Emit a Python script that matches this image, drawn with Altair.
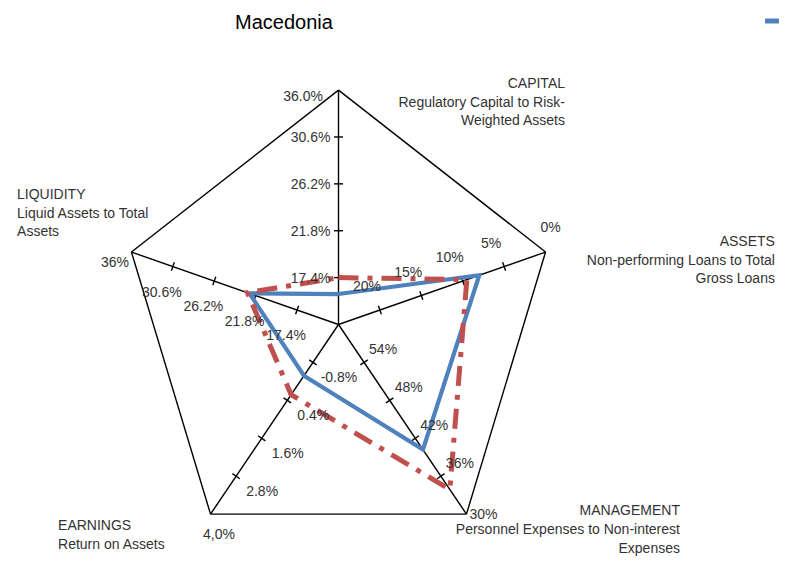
import math
import altair as alt
import pandas as pd

# ---------------- data ----------------
TITLE = "Macedonia"
axis_names = ["CAPITAL", "ASSETS", "MANAGEMENT", "EARNINGS", "LIQUIDITY"]
axis_subtitles = [
    "Regulatory Capital to Risk-\nWeighted Assets",
    "Non-performing Loans to Total\nGross Loans",
    "Personnel Expenses to Non-interest\nExpenses",
    "Return on Assets",
    "Liquid Assets to Total\nAssets",
]
tick_fractions = [0.2, 0.4, 0.6, 0.8, 1.0]
capital_ticks = ["17.4%", "21.8%", "26.2%", "30.6%", "36.0%"]
assets_ticks = ["20%", "15%", "10%", "5%", "0%"]
management_ticks = ["54%", "48%", "42%", "36%", "30%"]
earnings_ticks = ["-0.8%", "0.4%", "1.6%", "2.8%", "4,0%"]
liquidity_ticks = ["17.4%", "21.8%", "26.2%", "30.6%", "36%"]
all_ticks = [capital_ticks, assets_ticks, management_ticks, earnings_ticks, liquidity_ticks]

# radial position of each series on each axis (fraction of axis length)
series_blue = [0.13, 0.68, 0.66, 0.27, 0.43]
series_red = [0.20, 0.62, 0.87, 0.37, 0.44]

# ---------------- layout / style ----------------
W, H = 771, 548
CX, CY = 330.5, 316.5      # centre of the radar, in chart pixels
RX, RY = 217.7, 234.4      # horizontal / vertical radius in pixels
BLUE, RED = "#4F81BD", "#C0504D"
TXT = "#333333"
FONT = "Liberation Sans, Arial, sans-serif"

xdom = [-CX / RX, (W - CX) / RX]
ydom = [-(H - CY) / RY, CY / RY]
angles = [math.radians(90 - 72 * k) for k in range(5)]


def pt(k, f):
    return f * math.cos(angles[k]), f * math.sin(angles[k])


def off(dx, dy):
    return dx / RX, -dy / RY


def page(px, py):
    # page pixel -> data units (page has 8px margin)
    return (px - 8 - CX) / RX, (CY - (py - 8)) / RY


# tick-label offsets (pixels) per axis: (align, inner offset, end offset)
tick_style = [
    ("right", (-8, 1), (-15.5, 7)),
    ("center", (-13, -23), (5, -24)),
    ("center", (19, -12.5), (17, 1)),
    ("center", (26, 15.5), (8.5, 21)),
    ("center", (-11, 26), (-16.5, 11)),
]
# category-label offsets from the axis end (pixels): (align, dx, first-line centre dy)
cat_style = [
    ("right", 226.5, -7),
    ("right", 229.4, -11),
    ("right", 213.5, -4),
    ("left", -152.5, 11),
    ("left", -114.4, -58),
]

x_enc = alt.X("x:Q", scale=alt.Scale(domain=xdom, nice=False, zero=False), axis=None)
y_enc = alt.Y("y:Q", scale=alt.Scale(domain=ydom, nice=False, zero=False), axis=None)

# ---------------- frame segments ----------------
segs = []
for k in range(5):
    x1, y1 = pt(k, 1.0)
    segs.append(dict(x=0.0, y=0.0, x2=x1, y2=y1, w="spoke"))
    xa, ya = pt((k + 1) % 5, 1.0)
    segs.append(dict(x=x1, y=y1, x2=xa, y2=ya, w="edge"))
    # tick marks perpendicular to the spoke (in pixel space)
    dxp, dyp = math.cos(angles[k]) * RX, -math.sin(angles[k]) * RY
    n = math.hypot(dxp, dyp)
    px_, py_ = -dyp / n, dxp / n
    for f in tick_fractions[:-1]:
        cx_, cy_ = pt(k, f)
        ox, oy = off(px_ * 4.5, py_ * 4.5)
        segs.append(dict(x=cx_ - ox, y=cy_ - oy, x2=cx_ + ox, y2=cy_ + oy, w="tick"))
seg_df = pd.DataFrame(segs)

frame = alt.Chart(seg_df).mark_rule(color="black", strokeWidth=1.4).encode(
    x=x_enc, y=y_enc, x2="x2:Q", y2="y2:Q"
)


def series_df(vals):
    rows = []
    for i in range(6):
        k = i % 5
        x, y = pt(k, vals[k])
        rows.append(dict(x=x, y=y, o=i))
    return pd.DataFrame(rows)


blue = alt.Chart(series_df(series_blue)).mark_line(
    color=BLUE, strokeWidth=4.2, strokeJoin="miter"
).encode(x=x_enc, y=y_enc, order="o:Q")

red = alt.Chart(series_df(series_red)).mark_line(
    color=RED, strokeWidth=5, strokeDash=[20, 9, 5, 9], strokeCap="butt", strokeJoin="miter"
).encode(x=x_enc, y=y_enc, order="o:Q")

# ---------------- tick labels ----------------
tl = []
for k in range(5):
    align, inner, end = tick_style[k]
    for j, f in enumerate(tick_fractions):
        x, y = pt(k, f)
        o = end if f == 1.0 else inner
        ox, oy = off(*o)
        tl.append(dict(x=x + ox, y=y + oy, t=all_ticks[k][j], a=align))
tl_df = pd.DataFrame(tl)

tick_right = alt.Chart(tl_df[tl_df.a == "right"]).mark_text(
    font=FONT, fontSize=14, align="right", baseline="middle", color=TXT
).encode(x=x_enc, y=y_enc, text="t:N")
tick_center = alt.Chart(tl_df[tl_df.a == "center"]).mark_text(
    font=FONT, fontSize=14, align="center", baseline="middle", color=TXT
).encode(x=x_enc, y=y_enc, text="t:N")

# ---------------- category labels ----------------
cl = []
for k in range(5):
    align, dx, dy = cat_style[k]
    x, y = pt(k, 1.0)
    ox, oy = off(dx, dy + 5.0)
    cl.append(dict(x=x + ox, y=y + oy, t=axis_names[k] + "\n" + axis_subtitles[k], a=align))
cl_df = pd.DataFrame(cl)

cat_layers = []
for a in ["left", "right"]:
    cat_layers.append(
        alt.Chart(cl_df[cl_df.a == a]).mark_text(
            font=FONT, fontSize=14, align=a, baseline="alphabetic",
            lineBreak="\n", lineHeight=18.7, color=TXT
        ).encode(x=x_enc, y=y_enc, text="t:N")
    )

# ---------------- title and legend stub ----------------
tx, ty = page(235, 29)
title = alt.Chart(pd.DataFrame([dict(x=tx, y=ty, t=TITLE)])).mark_text(
    font=FONT, fontSize=20, align="left", baseline="alphabetic", color="black"
).encode(x=x_enc, y=y_enc, text="t:N")

lx1, ly = page(765, 21)
lx2, _ = page(790, 21)
legend = alt.Chart(pd.DataFrame([dict(x=lx1, y=ly, x2=lx2, y2=ly)])).mark_rule(
    color=BLUE, strokeWidth=5
).encode(x=x_enc, y=y_enc, x2="x2:Q", y2="y2:Q")

chart = alt.layer(
    frame, blue, red, tick_right, tick_center, *cat_layers, title, legend
).properties(
    width=W, height=H, padding=0, autosize=alt.AutoSizeParams(type="none")
).configure_view(stroke=None)

chart.save("out.html", embed_options={"renderer": "svg", "actions": False})
